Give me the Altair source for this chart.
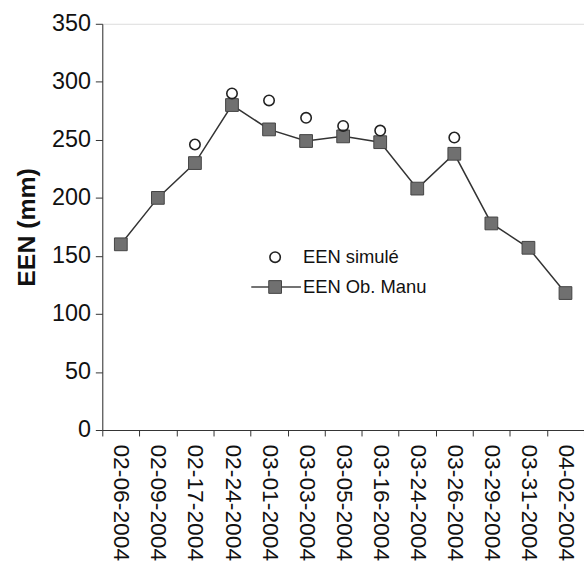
import altair as alt
import pandas as pd

dates = ["02-06-2004", "02-09-2004", "02-17-2004", "02-24-2004", "03-01-2004",
         "03-03-2004", "03-05-2004", "03-16-2004", "03-24-2004", "03-26-2004",
         "03-29-2004", "03-31-2004", "04-02-2004"]
observed = [160, 200, 230, 280, 259, 249, 253, 248, 208, 238, 178, 157, 118]
sim_dates = ["02-17-2004", "02-24-2004", "03-01-2004", "03-03-2004",
             "03-05-2004", "03-16-2004", "03-26-2004"]
simulated = [246, 290, 284, 269, 262, 258, 252]

legend_labels = ["EEN simulé", "EEN Ob. Manu"]

obs_df = pd.DataFrame({"date": dates, "een": observed})
sim_df = pd.DataFrame({"date": sim_dates, "een": simulated})

FONT = "Liberation Sans"
W, H = 485, 409

x = alt.X("date:N", sort=dates, title=None,
          scale=alt.Scale(domain=dates, paddingInner=0, paddingOuter=0),
          axis=alt.Axis(labelAngle=90, labelFont=FONT, labelFontSize=23,
                        labelColor="#111", labelAlign="left", labelBaseline="middle",
                        labelPadding=8, tickBand="extent", tickSize=6,
                        tickColor="#333", domainColor="#333", grid=False))
y = alt.Y("een:Q", title="EEN (mm)",
          scale=alt.Scale(domain=[0, 350], nice=False),
          axis=alt.Axis(values=[0, 50, 100, 150, 200, 250, 300, 350],
                        labelFont=FONT, labelFontSize=23.5, labelColor="#111",
                        labelPadding=5, tickSize=7, tickColor="#333",
                        domainColor="#333", grid=False,
                        titleFont=FONT, titleFontSize=25, titleFontWeight="bold",
                        titleColor="#111", titlePadding=12))

line = alt.Chart(obs_df).mark_line(color="#333", strokeWidth=1.5).encode(x=x, y=y)
squares = alt.Chart(obs_df).mark_point(
    shape="square", filled=True, size=165, color="#707070",
    stroke="#444", strokeWidth=1, opacity=1).encode(x=x, y=y)
circles = alt.Chart(sim_df).mark_point(
    shape="circle", filled=False, size=110, color="#222",
    strokeWidth=1.6, opacity=1).encode(x=x, y=y)

# legend (inside plot area)
leg_circle = alt.Chart(pd.DataFrame({"k": [0]})).mark_point(
    shape="circle", filled=False, size=110, color="#222", strokeWidth=1.6, opacity=1
).encode(x=alt.value(174), y=alt.value(235))
leg_line = alt.Chart(pd.DataFrame({"k": [0]})).mark_rule(
    color="#444", strokeWidth=1.5
).encode(x=alt.value(150), x2=alt.value(200), y=alt.value(265))
leg_square = alt.Chart(pd.DataFrame({"k": [0]})).mark_point(
    shape="square", filled=True, size=165, color="#707070", stroke="#444",
    strokeWidth=1, opacity=1
).encode(x=alt.value(174), y=alt.value(265))
leg_text = alt.Chart(pd.DataFrame({"label": legend_labels, "yy": [235, 265]})).mark_text(
    align="left", baseline="middle", font=FONT, fontSize=18.5, color="#111"
).encode(x=alt.value(202), y=alt.Y("yy:Q", scale=None), text="label:N")

chart = alt.layer(line, squares, circles, leg_circle, leg_line, leg_square, leg_text).properties(
    width=W, height=H,
    padding={"left": 103, "top": 22, "right": 0, "bottom": 140},
    autosize=alt.AutoSizeParams(type="none"),
).configure_view(stroke=None).configure(background="white")

chart.save("out.html", embed_options={"renderer": "svg", "actions": False})
